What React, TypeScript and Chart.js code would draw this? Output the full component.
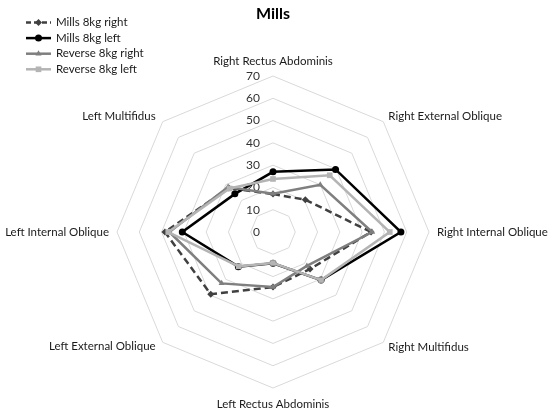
import React, { useEffect, useRef } from 'react';
import { Chart, registerables } from 'chart.js';

Chart.register(...registerables);

const chartTitle = 'Mills';
const categories = [
  'Right Rectus Abdominis',
  'Right External Oblique',
  'Right Internal Oblique',
  'Right Multifidus',
  'Left Rectus Abdominis',
  'Left External Oblique',
  'Left Internal Oblique',
  'Left Multifidus',
];
const seriesNames = ['Mills 8kg right', 'Mills 8kg left', 'Reverse 8kg right', 'Reverse 8kg left'];
const millsRight = [17, 20.5, 44, 23.5, 24.7, 39.5, 48.5, 28];
const millsLeft = [27, 39.7, 57.4, 30.5, 14, 22, 40.7, 24.2];
const reverseRight = [17.2, 30, 44.5, 21.5, 24.7, 32.6, 46.5, 28.5];
const reverseLeft = [23.8, 36, 52.4, 30.5, 13.9, 21.8, 47, 27.6];
const tickValues = [0, 10, 20, 30, 40, 50, 60, 70];

const FONT = 'Lato';

type Style = { color: string; dash: number[]; point: string; radius: number; width: number };
const styles: Style[] = [
  { color: '#404040', dash: [7, 4], point: 'rectRot', radius: 3.5, width: 2.5 },
  { color: '#000000', dash: [], point: 'circle', radius: 3.5, width: 2.5 },
  { color: '#7f7f7f', dash: [], point: 'triangle', radius: 3.5, width: 2.5 },
  { color: '#b4b4b4', dash: [], point: 'rect', radius: 4, width: 2.5 },
];

const labelPlacement = [
  { align: 'center', dx: 0, dy: -15 },
  { align: 'left', dx: 5, dy: -5 },
  { align: 'left', dx: 8, dy: 0 },
  { align: 'left', dx: 5, dy: 5 },
  { align: 'center', dx: 0, dy: 16 },
  { align: 'right', dx: -7, dy: 4 },
  { align: 'right', dx: -8, dy: 0 },
  { align: 'right', dx: -7, dy: -5 },
];

function drawMarker(ctx: CanvasRenderingContext2D, kind: string, x: number, y: number, r: number) {
  ctx.beginPath();
  if (kind === 'circle') {
    ctx.arc(x, y, r, 0, Math.PI * 2);
  } else if (kind === 'rect') {
    const s = r / Math.SQRT2;
    ctx.rect(x - s, y - s, 2 * s, 2 * s);
  } else if (kind === 'rectRot') {
    ctx.moveTo(x, y - r);
    ctx.lineTo(x + r, y);
    ctx.lineTo(x, y + r);
    ctx.lineTo(x - r, y);
    ctx.closePath();
  } else if (kind === 'triangle') {
    ctx.moveTo(x, y - r);
    ctx.lineTo(x + r * 0.866, y + r * 0.5);
    ctx.lineTo(x - r * 0.866, y + r * 0.5);
    ctx.closePath();
  }
  ctx.fill();
}

const overlayPlugin = {
  id: 'overlay',
  beforeDatasetsDraw(chart: any) {
    const scale = chart.scales.r;
    const ctx: CanvasRenderingContext2D = chart.ctx;
    ctx.save();
    ctx.font = `12px ${FONT}`;
    ctx.fillStyle = '#333333';
    ctx.textAlign = 'right';
    ctx.textBaseline = 'middle';
    tickValues.forEach((v) => {
      const d = scale.getDistanceFromCenterForValue(v);
      ctx.fillText(String(v), scale.xCenter - 13, scale.yCenter - d);
    });
    ctx.font = `11.5px ${FONT}`;
    ctx.fillStyle = '#1a1a1a';
    categories.forEach((c, i) => {
      const p = scale.getPointPosition(i, scale.drawingArea);
      const s = labelPlacement[i];
      ctx.textAlign = s.align as CanvasTextAlign;
      ctx.fillText(c, p.x + s.dx, p.y + s.dy);
    });
    ctx.restore();
  },
  afterDraw(chart: any) {
    const ctx: CanvasRenderingContext2D = chart.ctx;
    ctx.save();
    ctx.font = `11.5px ${FONT}`;
    ctx.textAlign = 'left';
    ctx.textBaseline = 'middle';
    seriesNames.forEach((name, i) => {
      const st = styles[i];
      const y = 22.5 + i * 15.6;
      ctx.strokeStyle = st.color;
      ctx.lineWidth = st.width;
      ctx.setLineDash(st.dash.length ? [5, 3] : []);
      ctx.beginPath();
      ctx.moveTo(26, y);
      ctx.lineTo(51, y);
      ctx.stroke();
      ctx.setLineDash([]);
      ctx.fillStyle = st.color;
      drawMarker(ctx, st.point, 38.5, y, st.radius);
      ctx.fillStyle = '#1a1a1a';
      ctx.fillText(name, 56, y);
    });
    ctx.restore();
  },
};

export default function App() {
  const ref = useRef<HTMLCanvasElement | null>(null);
  useEffect(() => {
    document.body.style.margin = '0';
    if (!ref.current) return;
    const seriesData = [millsRight, millsLeft, reverseRight, reverseLeft];
    const chart = new Chart(ref.current, {
      type: 'radar',
      data: {
        labels: categories,
        datasets: seriesNames.map((name, i) => ({
          label: name,
          data: seriesData[i],
          borderColor: styles[i].color,
          backgroundColor: styles[i].color,
          pointBackgroundColor: styles[i].color,
          pointBorderColor: styles[i].color,
          borderWidth: styles[i].width,
          borderDash: styles[i].dash,
          pointStyle: styles[i].point as any,
          pointRadius: styles[i].radius,
          pointBorderWidth: 0,
          fill: false,
          tension: 0,
          order: 4 - i,
        })),
      },
      options: {
        animation: false,
        responsive: false,
        layout: { padding: { left: 117, right: 121, top: 0, bottom: 23 } },
        plugins: {
          legend: { display: false },
          tooltip: { enabled: false },
          title: {
            display: true,
            text: chartTitle,
            color: '#000',
            font: { family: FONT, size: 16, weight: 'bold' },
            padding: { top: 4, bottom: 52.8 },
          },
        },
        scales: {
          r: {
            min: 0,
            max: 70,
            ticks: { display: false, stepSize: 10 },
            grid: { color: '#d9d9d9', lineWidth: 1 },
            angleLines: { display: false },
            pointLabels: { display: false },
          },
        },
      },
      plugins: [overlayPlugin],
    });
    return () => chart.destroy();
  }, []);
  return (
    <div style={{ width: 550, height: 411 }}>
      <canvas ref={ref} width={550} height={411} style={{ display: 'block' }} />
    </div>
  );
}
